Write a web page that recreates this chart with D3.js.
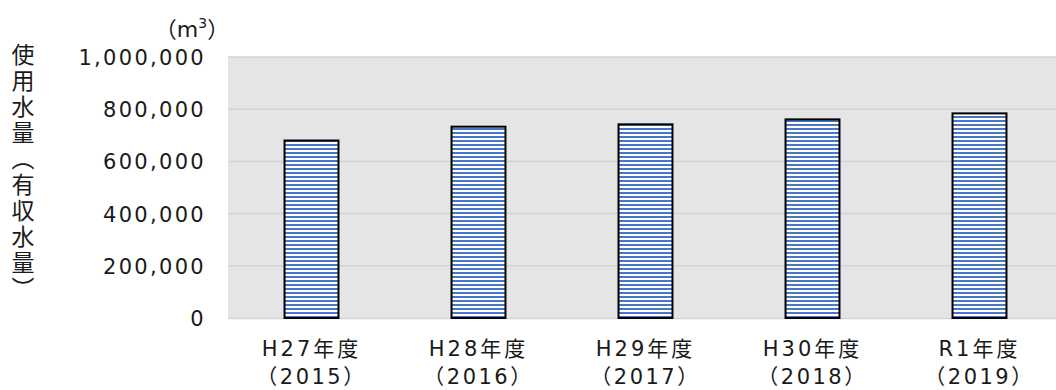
<!DOCTYPE html>
<html>
<head>
<meta charset="utf-8">
<script src="https://cdn.jsdelivr.net/npm/d3@7/dist/d3.min.js"></script>
<style>
  html, body { margin: 0; padding: 0; background: #fff; }
  svg { display: block; }
</style>
</head>
<body>
<svg id="chart" width="1056" height="390"></svg>
<script>
// Fiscal years (Japanese era label + western year)
const categories = ["H27年度", "H28年度", "H29年度", "H30年度", "R1年度"];
const years = ["2015", "2016", "2017", "2018", "2019"];
// Water used (billed volume), m³
const usage = [680000, 733000, 742000, 761000, 784000];
// Y axis ticks
const yTicks = [0, 200000, 400000, 600000, 800000, 1000000];

const NUM_FONT = "'DejaVu Sans', 'Noto Sans CJK JP', sans-serif";
const JP_FONT = "'Noto Sans CJK JP', sans-serif";

const svg = d3.select("#chart");
const plot = { left: 228, right: 1063, top: 57, bottom: 318 };

const x = d3.scaleBand()
  .domain(categories)
  .range([plot.left, plot.right])
  .paddingInner(0.677)
  .paddingOuter(0.3385);

const y = d3.scaleLinear()
  .domain([0, 1000000])
  .range([plot.bottom, plot.top]);

// Horizontal stripe fill for the bars
const defs = svg.append("defs");
const pat = defs.append("pattern")
  .attr("id", "stripes")
  .attr("patternUnits", "userSpaceOnUse")
  .attr("width", 8).attr("height", 4);
pat.append("rect").attr("width", 8).attr("height", 4).attr("fill", "#ffffff");
pat.append("rect").attr("y", 0).attr("width", 8).attr("height", 2).attr("fill", "#4a76c6");

// Plot background
svg.append("rect")
  .attr("x", plot.left).attr("y", plot.top)
  .attr("width", plot.right - plot.left)
  .attr("height", plot.bottom - plot.top)
  .attr("fill", "#e5e5e5");

// Gridlines
svg.append("g")
  .selectAll("line")
  .data(yTicks.filter(d => d > 0))
  .join("line")
  .attr("x1", plot.left).attr("x2", plot.right)
  .attr("y1", d => y(d)).attr("y2", d => y(d))
  .attr("stroke", "#d3d3d3")
  .attr("stroke-width", 1.5);

// Baseline
svg.append("line")
  .attr("x1", plot.left).attr("x2", plot.right)
  .attr("y1", y(0) + 0.5).attr("y2", y(0) + 0.5)
  .attr("stroke", "#d6d6d6")
  .attr("stroke-width", 1.5);

// Bars
svg.append("g")
  .selectAll("rect")
  .data(usage)
  .join("rect")
  .attr("x", (d, i) => x(categories[i]))
  .attr("y", d => y(d))
  .attr("width", x.bandwidth())
  .attr("height", d => y(0) - y(d))
  .attr("fill", "url(#stripes)")
  .attr("stroke", "#000")
  .attr("stroke-width", 2);

// Y axis
const yAxis = d3.axisLeft(y)
  .tickValues(yTicks)
  .tickSize(0)
  .tickPadding(22)
  .tickFormat(d3.format(","));
const gy = svg.append("g")
  .attr("transform", `translate(${plot.left},0)`)
  .call(yAxis)
  .attr("font-family", NUM_FONT)
  .attr("font-size", 21);
gy.select(".domain").remove();
gy.selectAll("text")
  .attr("letter-spacing", "2.3px")
  .attr("fill", "#1a1a1a")
  .attr("dy", "0.36em");

// X axis (two-line labels)
const xAxis = d3.axisBottom(x).tickSize(0).tickFormat("");
const gx = svg.append("g")
  .attr("transform", `translate(0,${plot.bottom})`)
  .call(xAxis)
  .attr("font-family", NUM_FONT)
  .attr("font-size", 21);
gx.select(".domain").remove();
gx.selectAll(".tick").each(function(d, i) {
  const tick = d3.select(this);
  tick.append("text")
    .attr("text-anchor", "middle")
    .attr("fill", "#1a1a1a")
    .attr("letter-spacing", "3px")
    .attr("y", 38)
    .text(d);
  tick.append("text")
    .attr("text-anchor", "middle")
    .attr("fill", "#1a1a1a")
    .attr("letter-spacing", "2.5px")
    .attr("y", 66)
    .text("（" + years[i] + "）");
});

// Unit label
const unit = svg.append("text")
  .attr("font-family", NUM_FONT)
  .attr("x", 192).attr("y", 37)
  .attr("text-anchor", "middle")
  .attr("font-size", 22)
  .attr("fill", "#1a1a1a");
unit.append("tspan").text("（m");
unit.append("tspan").attr("font-size", 14).attr("dy", -9).text("3");
unit.append("tspan").attr("dy", 9).text("）");

// Vertical axis title
svg.append("text")
  .attr("font-family", JP_FONT)
  .attr("x", 23).attr("y", 43)
  .attr("font-size", 23)
  .attr("letter-spacing", "3px")
  .attr("fill", "#1a1a1a")
  .style("writing-mode", "vertical-rl")
  .style("text-orientation", "upright")
  .text("使用水量（有収水量）");
</script>
</body>
</html>
